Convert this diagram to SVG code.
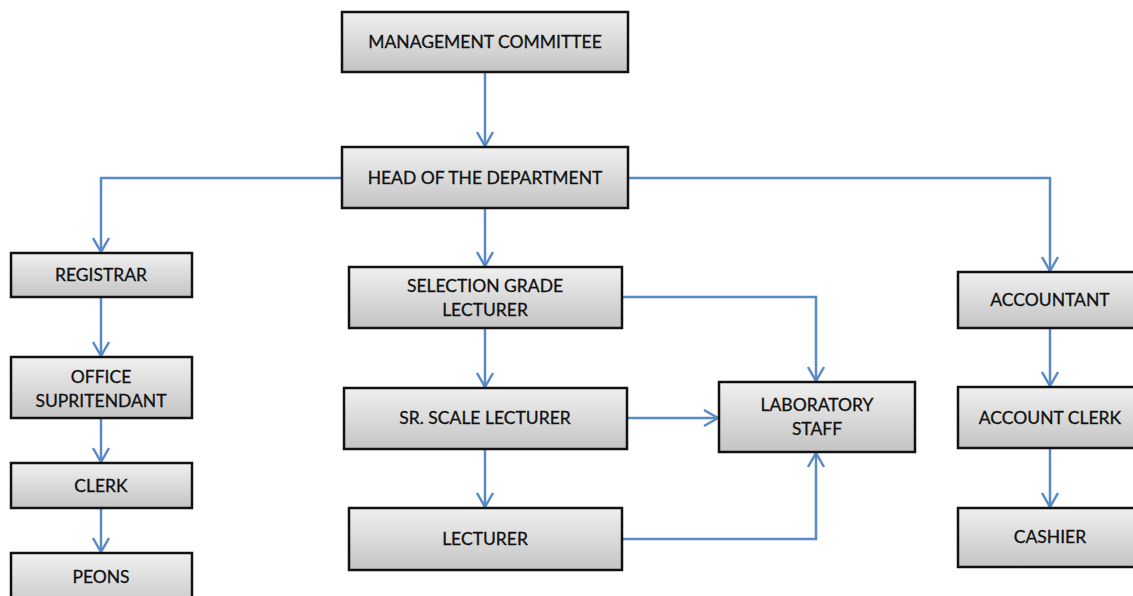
<svg xmlns="http://www.w3.org/2000/svg" width="1133" height="596" viewBox="0 0 1133 596">
<defs>
<linearGradient id="g" x1="0" y1="0" x2="0" y2="1">
<stop offset="0" stop-color="#f0f0f0"/>
<stop offset="1" stop-color="#c4c4c4"/>
</linearGradient>
<marker id="ah" viewBox="0 0 20 20" refX="18" refY="10" markerWidth="20" markerHeight="20" markerUnits="userSpaceOnUse" orient="auto">
<path d="M4 2 L18 10 L4 18" fill="none" stroke="#5a8ac6" stroke-width="2.5"/>
</marker>
</defs>
<style>
.box{fill:url(#g);stroke:#111;stroke-width:2.5}
text{font-family:Lato,"Liberation Sans",sans-serif;font-size:17.5px;fill:#111;text-anchor:middle;stroke:#111;stroke-width:0.3}
.c{fill:none;stroke:#5a8ac6;stroke-width:2.5}
</style>
<rect width="1133" height="596" fill="#fff"/>
<g id="connectors">
<path class="c" d="M485 72 V146" marker-end="url(#ah)"/>
<path class="c" d="M342 178 H101 V252" marker-end="url(#ah)"/>
<path class="c" d="M628 178 H1050 V271" marker-end="url(#ah)"/>
<path class="c" d="M485 208 V266" marker-end="url(#ah)"/>
<path class="c" d="M101 297 V356" marker-end="url(#ah)"/>
<path class="c" d="M101 418 V462" marker-end="url(#ah)"/>
<path class="c" d="M101 508 V552" marker-end="url(#ah)"/>
<path class="c" d="M485 328 V387" marker-end="url(#ah)"/>
<path class="c" d="M485 449 V507" marker-end="url(#ah)"/>
<path class="c" d="M622 297 H816 V381" marker-end="url(#ah)"/>
<path class="c" d="M627 418 H718" marker-end="url(#ah)"/>
<path class="c" d="M622 539 H816 V453" marker-end="url(#ah)"/>
<path class="c" d="M1050 328 V386" marker-end="url(#ah)"/>
<path class="c" d="M1050 448 V507" marker-end="url(#ah)"/>
</g>
<g id="mgmt"><rect class="box" x="342" y="12" width="286" height="60"/><text x="485" y="48">MANAGEMENT COMMITTEE</text></g>
<g id="hod"><rect class="box" x="342" y="147" width="286" height="61"/><text x="485" y="184">HEAD OF THE DEPARTMENT</text></g>
<g id="registrar"><rect class="box" x="11" y="253" width="181" height="44"/><text x="101" y="281">REGISTRAR</text></g>
<g id="office"><rect class="box" x="11" y="357" width="181" height="61"/><text x="101" y="383">OFFICE</text><text x="101" y="407">SUPRITENDANT</text></g>
<g id="clerk"><rect class="box" x="11" y="463" width="181" height="45"/><text x="101" y="492">CLERK</text></g>
<g id="peons"><rect class="box" x="11" y="553" width="181" height="60"/><text x="101" y="583">PEONS</text></g>
<g id="sgl"><rect class="box" x="349" y="267" width="273" height="61"/><text x="485" y="292">SELECTION GRADE</text><text x="485" y="316">LECTURER</text></g>
<g id="ssl"><rect class="box" x="344" y="388" width="283" height="61"/><text x="485" y="424">SR. SCALE LECTURER</text></g>
<g id="lecturer"><rect class="box" x="349" y="508" width="273" height="62"/><text x="485" y="545">LECTURER</text></g>
<g id="lab"><rect class="box" x="719" y="382" width="196" height="70"/><text x="817" y="411">LABORATORY</text><text x="817" y="435">STAFF</text></g>
<g id="accountant"><rect class="box" x="958" y="272" width="185" height="56"/><text x="1050" y="306">ACCOUNTANT</text></g>
<g id="accclerk"><rect class="box" x="958" y="387" width="185" height="61"/><text x="1050" y="424">ACCOUNT CLERK</text></g>
<g id="cashier"><rect class="box" x="958" y="508" width="185" height="59"/><text x="1050" y="543">CASHIER</text></g>
</svg>
